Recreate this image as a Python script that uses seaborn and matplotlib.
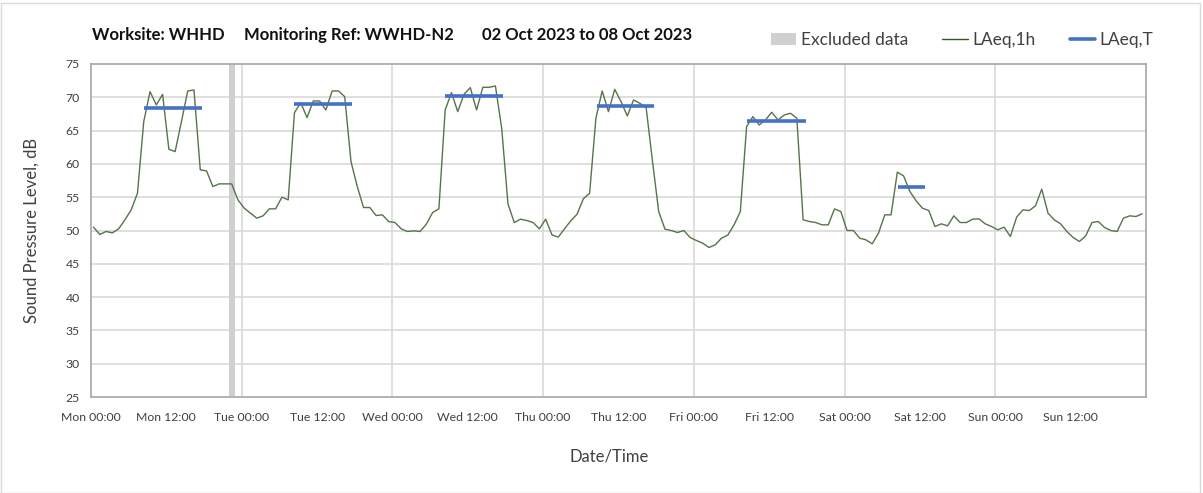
import numpy as np
import pandas as pd
import matplotlib
matplotlib.use('Agg')
import matplotlib.pyplot as plt
import seaborn as sns
from matplotlib.patches import Patch, Rectangle
from matplotlib.lines import Line2D

# hourly LAeq,1h readings, Mon 00:00 .. Sun 23:00
laeq_1h = [
    50.5, 49.4, 49.85, 49.65, 50.25, 51.6, 53.1, 55.6, 66.35, 70.85, 68.85, 70.45,
    62.2, 61.85, 66.35, 70.95, 71.1, 59.1, 58.95, 56.6, 57.0, 57.0, 57.0, 54.6,
    53.35, 52.6, 51.85, 52.2, 53.25, 53.25, 55.0, 54.6, 67.7, 69.2, 66.95, 69.45,
    69.45, 68.1, 70.95, 70.95, 70.1, 60.35, 56.6, 53.45, 53.45, 52.25, 52.35, 51.35,
    51.2, 50.25, 49.85, 49.95, 49.85, 50.95, 52.7, 53.25, 68.1, 70.7, 67.85, 70.45,
    71.45, 68.1, 71.5, 71.5, 71.7, 65.35, 54.0, 51.2, 51.7, 51.5, 51.2, 50.25,
    51.7, 49.35, 49.0, 50.25, 51.45, 52.45, 54.75, 55.6, 66.85, 70.95, 67.85, 71.2,
    69.35, 67.2, 69.6, 69.1, 68.45, 60.5, 52.85, 50.2, 50.0, 49.7, 50.0, 48.95,
    48.5, 48.1, 47.45, 47.85, 48.85, 49.3, 50.85, 52.85, 65.6, 67.1, 65.85, 66.6,
    67.75, 66.6, 67.35, 67.6, 66.85, 51.6, 51.35, 51.2, 50.85, 50.85, 53.25, 52.85,
    50.0, 50.0, 48.85, 48.6, 48.0, 49.6, 52.35, 52.35, 58.75, 58.2, 55.85, 54.45,
    53.35, 53.0, 50.6, 51.0, 50.7, 52.2, 51.2, 51.2, 51.7, 51.75, 51.0, 50.6,
    50.1, 50.5, 49.1, 52.0, 53.1, 53.0, 53.7, 56.2, 52.6, 51.6, 51.0, 49.85,
    48.95, 48.35, 49.2, 51.2, 51.35, 50.45, 50.0, 49.85, 51.85, 52.2, 52.1, 52.5,
]

# LAeq,T over each working period (day index, start/end hour of that day)
period_day = [0, 1, 2, 3, 4, 5]
period_start = [8.4, 8.4, 8.4, 8.5, 8.4, 8.5]
period_end = [17.6, 17.6, 17.6, 17.7, 17.8, 12.8]
laeq_t = [68.35, 68.95, 70.2, 68.65, 66.45, 56.55]

# excluded window (hours from Mon 00:00)
excluded_start = 22.0
excluded_end = 23.0

day_names = ['Mon', 'Tue', 'Wed', 'Thu', 'Fri', 'Sat', 'Sun']
title_parts = ['Worksite: WHHD', 'Monitoring Ref: WWHD-N2', '02 Oct 2023 to 08 Oct 2023']

sns.set_style('white')
plt.rcParams['font.family'] = ['Lato', 'DejaVu Sans']

W, H = 1203, 493
line_col = '#56744a'
blue = '#4472C4'
grey_band = '#d0d0d0'
grid_col = '#d9d9d9'
spine_col = '#a6a6a6'
text_col = '#404040'

df = pd.DataFrame({'hour': np.arange(len(laeq_1h)) + 0.4, 'laeq': laeq_1h})

fig = plt.figure(figsize=(W / 100, H / 100), dpi=100)
ax = fig.add_axes([91 / W, 1 - 397 / H, (1146 - 91) / W, (397 - 64) / H])

ax.axvspan(excluded_start, excluded_end, color=grey_band, lw=0, zorder=1)
sns.lineplot(data=df, x='hour', y='laeq', color=line_col, lw=1.0, ax=ax, zorder=3)
for d, s, e, v in zip(period_day, period_start, period_end, laeq_t):
    ax.plot([d * 24 + s, d * 24 + e], [v, v], color=blue, lw=2.6, zorder=4,
            solid_capstyle='butt')

ax.set_xlim(0, 168)
ax.set_ylim(25, 75)
ax.set_yticks(np.arange(25, 76, 5))
ax.set_xticks(np.arange(0, 169, 12))
xlabels = [f'{day_names[i // 2]} {"00:00" if i % 2 == 0 else "12:00"}' for i in range(14)] + ['']
ax.set_xticklabels(xlabels)

# horizontal grid at every 5 dB, vertical grid only at day boundaries
for y in np.arange(30, 75, 5):
    ax.axhline(y, color=grid_col, lw=1.2, zorder=0)
for x in np.arange(24, 168, 24):
    ax.axvline(x, color=grid_col, lw=1.2, zorder=0)

for sp in ax.spines.values():
    sp.set_color(spine_col)
    sp.set_linewidth(1.2)
ax.tick_params(axis='both', direction='out', length=5, width=1, color=spine_col,
               labelsize=8.8, labelcolor=text_col, pad=3)
ax.tick_params(axis='x', pad=6)
ax.set_xlabel('')
ax.set_ylabel('')

fig.text(609 / W, 1 - 457 / H, 'Date/Time', fontsize=12, color=text_col,
         ha='center', va='center')
fig.text(32 / W, 1 - 230 / H, 'Sound Pressure Level, dB', fontsize=12, color=text_col,
         ha='center', va='center', rotation=90)

for xp, txt in zip([92, 244, 482], title_parts):
    fig.text(xp / W, 1 - 35 / H, txt, fontsize=12, fontweight='bold',
             color='#111111', va='center', ha='left')

handles = [
    Patch(facecolor=grey_band, edgecolor='none', label='Excluded data'),
    Line2D([0], [0], color='#375623', lw=1.0, label='LAeq,1h'),
    Line2D([0], [0], color=blue, lw=2.6, label='LAeq,T'),
]
fig.legend(handles=handles, loc='center left', bbox_to_anchor=(771 / W, 1 - 40 / H),
           ncol=3, frameon=False, fontsize=12.5, handlelength=1.45, handletextpad=0.25,
           columnspacing=2.0, borderpad=0, borderaxespad=0, labelcolor=text_col)

fig.patches.append(Rectangle((1 / W, 0.0), 1199 / W, 1 - 3 / H,
                             transform=fig.transFigure, fill=False,
                             edgecolor='#d9d9d9', lw=1.0))

fig.savefig('out.png', dpi=100)
plt.close(fig)
